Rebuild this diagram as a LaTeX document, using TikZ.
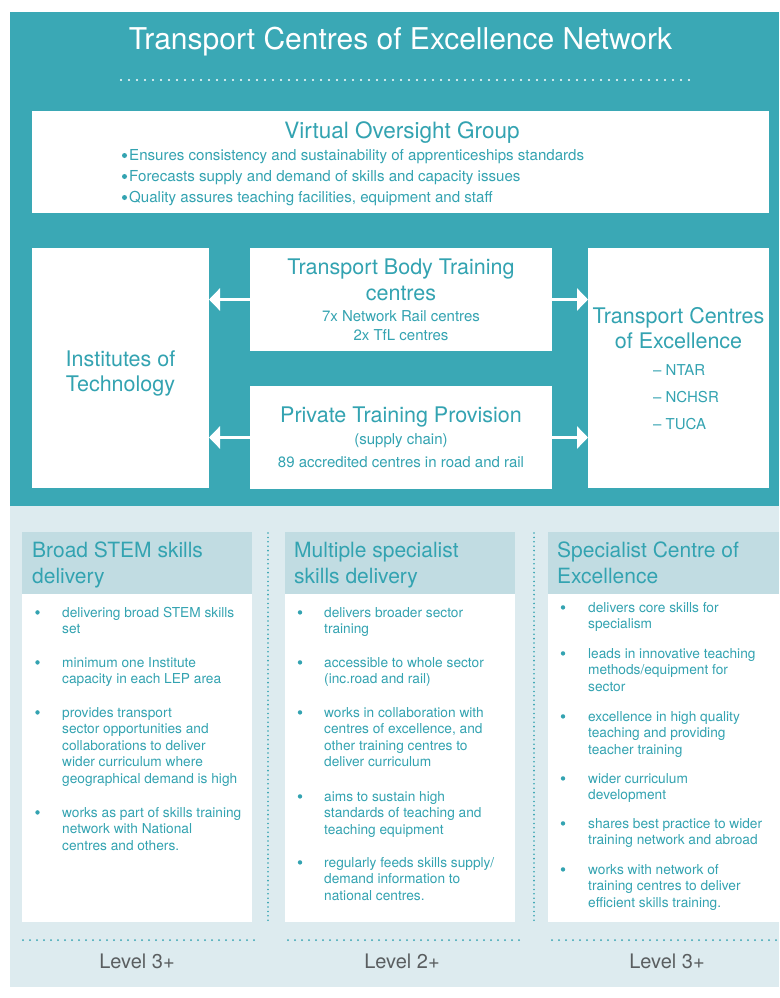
\documentclass[tikz,border=0pt]{standalone}
\usepackage{fontspec}
\setmainfont{TeX Gyre Heros}
\usetikzlibrary{arrows.meta}

\definecolor{tealbg}{HTML}{3AA8B5}
\definecolor{tealtxt}{HTML}{33A3B1}
\definecolor{paleband}{HTML}{DDEBEF}
\definecolor{hdrfill}{HTML}{C1DCE2}
\definecolor{levelgrey}{HTML}{5A5E60}

% one bulleted item: name, bullet x, text x, first baseline, lines
\newcommand\bulletitem[5]{%
  \node[bul] (#1-dot) at (#2,{#4-4.6}) {};
  \foreach \ln [count=\k] in {#5} {
    \node[bodyline] (#1-\k) at (#3,{#4+(\k-1)*16.6}) {\ln};
  }%
}

\begin{document}
\begin{tikzpicture}[x=1pt,y=-1pt,
  panel/.style={inner sep=0pt, outer sep=0pt, draw=none, anchor=north west},
  whitebox/.style={fill=white, inner sep=0pt, outer sep=0pt, draw=none},
  bigtext/.style={anchor=base, inner sep=0pt, text=tealtxt, font=\fontsize{21.5}{21.5}\selectfont},
  smalltext/.style={anchor=base, inner sep=0pt, text=tealtxt, font=\fontsize{15}{15}\selectfont},
  vogline/.style={anchor=base west, inner sep=0pt, text=tealtxt, font=\fontsize{15.1}{15.1}\selectfont},
  hdrtext/.style={anchor=base west, inner sep=0pt, text=tealtxt, font=\fontsize{21}{21}\selectfont},
  bodyline/.style={anchor=base west, inner sep=0pt, text=tealtxt, font=\fontsize{13.7}{13.7}\selectfont},
  bul/.style={circle, fill=tealtxt, inner sep=0pt, minimum size=4.4pt},
  vogbul/.style={circle, fill=tealtxt, inner sep=0pt, minimum size=5pt},
  leveltext/.style={anchor=base, inner sep=0pt, text=levelgrey, font=\fontsize{20}{20}\selectfont},
  linkarrow/.style={white, line width=3pt, -{Triangle[length=11pt,width=22pt]}},
  whitedots/.style={white, line width=2.2pt, line cap=round, dash pattern=on 0pt off 8pt},
  tealdotsh/.style={tealtxt, line width=2pt, line cap=round, dash pattern=on 0pt off 7pt},
  tealdotsv/.style={tealtxt, line width=1.8pt, line cap=round, dash pattern=on 0pt off 4.4pt}]

\useasboundingbox (0,0) rectangle (779,998);

% background panels
\node[panel, fill=tealbg, minimum width=769pt, minimum height=494pt] (toppanel) at (10,12) {};
\node[panel, fill=paleband, minimum width=769pt, minimum height=481pt] (lowpanel) at (10,506) {};

% heading
\node[anchor=base, inner sep=0pt, text=white, font=\fontsize{30}{30}\selectfont] (title) at (400.5,50)
  {Transport Centres of Excellence Network};
\draw[whitedots] (121,80) -- (689,80);

% oversight group
\node[whitebox, minimum width=737pt, minimum height=102pt] (vog) at (400.5,162) {};
\node[anchor=base, inner sep=0pt, text=tealtxt, font=\fontsize{22.5}{22.5}\selectfont] (vogtitle) at (402,138) {Virtual Oversight Group};
\node[vogbul] (vog1-dot) at (124.5,155.5) {};
\node[vogbul] (vog2-dot) at (124.5,176.5) {};
\node[vogbul] (vog3-dot) at (124.5,197.5) {};
\node[vogline] (vog1) at (129,160) {Ensures consistency and sustainability of apprenticeships standards};
\node[vogline] (vog2) at (129,181) {Forecasts supply and demand of skills and capacity issues};
\node[vogline] (vog3) at (129,202) {Quality assures teaching facilities, equipment and staff};

% network boxes
\node[whitebox, minimum width=177pt, minimum height=240pt] (inst) at (120.5,368) {};
\node[whitebox, minimum width=302pt, minimum height=103pt] (tb) at (401,299.5) {};
\node[whitebox, minimum width=302pt, minimum height=103pt] (ptp) at (401,437.5) {};
\node[whitebox, minimum width=181pt, minimum height=240pt] (tce) at (678.5,368) {};

\node[bigtext] (inst1) at (120.5,366) {Institutes of};
\node[bigtext] (inst2) at (120.5,391) {Technology};

\node[bigtext] (tb1) at (401,274) {Transport Body Training};
\node[bigtext] (tb2) at (401,300) {centres};
\node[smalltext] (tb3) at (401,321) {7x Network Rail centres};
\node[smalltext] (tb4) at (401,340) {2x TfL centres};

\node[bigtext] (ptp1) at (401,422) {Private Training Provision};
\node[smalltext] (ptp2) at (401,444) {(supply chain)};
\node[smalltext] (ptp3) at (401,467) {89 accredited centres in road and rail};

\node[bigtext] (tce1) at (678.5,323) {Transport Centres};
\node[bigtext] (tce2) at (678.5,348) {of Excellence};
\node[smalltext, anchor=base west] (tce3) at (653,375) {– NTAR};
\node[smalltext, anchor=base west] (tce4) at (653,402) {– NCHSR};
\node[smalltext, anchor=base west] (tce5) at (653,429) {– TUCA};

\draw[linkarrow] (tb.west) -- (inst.east |- tb.west);
\draw[linkarrow] (tb.east) -- (tce.west |- tb.east);
\draw[linkarrow] (ptp.west) -- (inst.east |- ptp.west);
\draw[linkarrow] (ptp.east) -- (tce.west |- ptp.east);

% delivery columns
\node[panel, fill=hdrfill, minimum width=230pt, minimum height=62pt] (h1) at (22,532) {};
\node[panel, fill=white, minimum width=230pt, minimum height=328pt] (b1) at (22,594) {};
\node[panel, fill=hdrfill, minimum width=230pt, minimum height=62pt] (h2) at (285,532) {};
\node[panel, fill=white, minimum width=230pt, minimum height=328pt] (b2) at (285,594) {};
\node[panel, fill=hdrfill, minimum width=231pt, minimum height=62pt] (h3) at (548,532) {};
\node[panel, fill=white, minimum width=231pt, minimum height=328pt] (b3) at (548,594) {};

\draw[tealdotsv] (268,533) -- (268,922);
\draw[tealdotsv] (534,533) -- (534,922);

\node[hdrtext] (h1a) at (32,557) {Broad STEM skills};
\node[hdrtext] (h1b) at (32,583) {delivery};
\node[hdrtext] (h2a) at (294,557) {Multiple specialist};
\node[hdrtext] (h2b) at (294,583) {skills delivery};
\node[hdrtext] (h3a) at (557,557) {Specialist Centre of};
\node[hdrtext] (h3b) at (557,583) {Excellence};

\bulletitem{c1a}{37.5}{62}{617}{delivering broad STEM skills, set}
\bulletitem{c1b}{37.5}{62}{667}{minimum one Institute, capacity in each LEP area}
\bulletitem{c1c}{37.5}{62}{717}{provides transport, sector opportunities and, collaborations to deliver, wider curriculum where, geographical demand is high}
\bulletitem{c1d}{37.5}{62}{817}{works as part of skills training, network with National, centres and others.}

\bulletitem{c2a}{300}{324}{617}{delivers broader sector, training}
\bulletitem{c2b}{300}{324}{667}{accessible to whole sector, {(inc.road and rail)}}
\bulletitem{c2c}{300}{324}{717}{works in collaboration with, {centres of excellence, and}, other training centres to, deliver curriculum}
\bulletitem{c2d}{300}{324}{801}{aims to sustain high, standards of teaching and, teaching equipment}
\bulletitem{c2e}{300}{324}{867}{regularly feeds skills supply/, demand information to, national centres.}

\bulletitem{c3a}{563}{588}{612}{delivers core skills for, specialism}
\bulletitem{c3b}{563}{588}{658}{leads in innovative teaching, methods/equipment for, sector}
\bulletitem{c3c}{563}{588}{721}{excellence in high quality, teaching and providing, teacher training}
\bulletitem{c3d}{563}{588}{783}{wider curriculum, development}
\bulletitem{c3e}{563}{588}{828}{shares best practice to wider, training network and abroad}
\bulletitem{c3f}{563}{588}{874}{works with network of, training centres to deliver, efficient skills training.}

% levels
\draw[tealdotsh] (23,940) -- (255,940);
\draw[tealdotsh] (288,940) -- (520,940);
\draw[tealdotsh] (552,940) -- (778,940);
\node[leveltext] (lv1) at (137,968) {Level 3+};
\node[leveltext] (lv2) at (402,968) {Level 2+};
\node[leveltext] (lv3) at (667,968) {Level 3+};

\end{tikzpicture}
\end{document}
